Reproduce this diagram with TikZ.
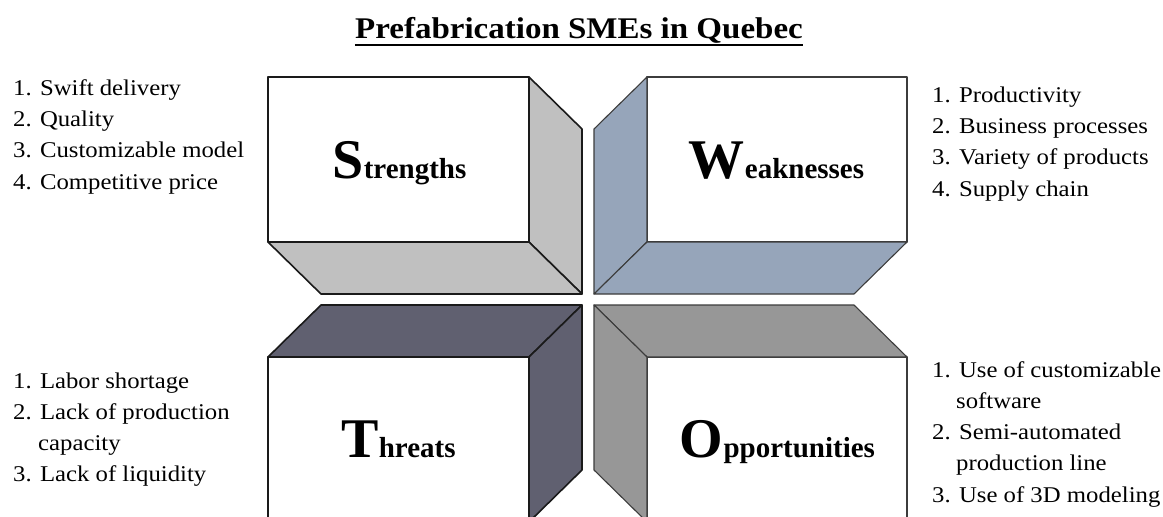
\documentclass[tikz,border=0pt]{standalone}
\usepackage{fontspec}
\setmainfont{Liberation Serif}
\newfontfamily\widefont{Liberation Serif}[FakeStretch=1.1]
\definecolor{sgray}{HTML}{C0C0C0}
\definecolor{wblue}{HTML}{96A5BA}
\definecolor{tslate}{HTML}{606070}
\definecolor{ogray}{HTML}{979797}
\definecolor{edgeA}{HTML}{1A1A1A}
\definecolor{edgeB}{HTML}{3C3C3C}
\begin{document}
\begin{tikzpicture}[x=1pt,y=-1pt,
  facefront/.style={draw, fill=white, inner sep=0pt, outer sep=0pt, minimum height=165pt},
  leftbox/.style={line width=1.6pt, draw=edgeA, line join=round},
  rightbox/.style={line width=1.1pt, draw=edgeB, line join=round},
  item/.style={anchor=base west, inner sep=0pt, font=\widefont\fontsize{22.5}{27}\selectfont},
  lbl/.style={anchor=base, inner sep=0pt, font=\bfseries},
  ]
\def\dx{53}\def\dy{52}
\newcommand{\bigL}[1]{{\fontsize{56}{60}\selectfont #1}}
\newcommand{\smallL}[1]{{\fontsize{29}{32}\selectfont #1}}
\useasboundingbox (0,0) rectangle (1163,517);
\fill[white] (0,0) rectangle (1163,517);
\clip (0,0) rectangle (1163,517);

% Title
\node[anchor=base, inner sep=0pt, font=\widefont\fontsize{30}{34}\selectfont\bfseries] (title) at (579,38) {Prefabrication SMEs in Quebec};
\draw[line width=2.2pt] ([yshift=-7pt]title.base west) -- ([yshift=-7pt]title.base east);

% Strengths
\node[facefront, leftbox, minimum width=261pt] (S) at (398.5,159.5) {};
\filldraw[leftbox, fill=sgray] (S.north east) -- ++(\dx,\dy) -- ++(0,165) -- (S.south east) -- cycle;
\filldraw[leftbox, fill=sgray] (S.south west) -- ++(\dx,\dy) -- ++(261,0) -- (S.south east) -- cycle;
\node[lbl] (Sl) at (399.5,178) {\bigL{S}\smallL{trengths}};

% Weaknesses
\node[facefront, rightbox, minimum width=260pt] (W) at (777,159.5) {};
\filldraw[rightbox, fill=wblue] (W.north west) -- ++(-\dx,\dy) -- ++(0,165) -- (W.south west) -- cycle;
\filldraw[rightbox, fill=wblue] (W.south west) -- ++(-\dx,\dy) -- ++(260,0) -- (W.south east) -- cycle;
\node[lbl] (Wl) at (776.5,178) {\bigL{W}\smallL{eaknesses}};

% Threats
\node[facefront, leftbox, minimum width=261pt] (T) at (398.5,439.5) {};
\filldraw[leftbox, fill=tslate] (T.north west) -- ++(\dx,-\dy) -- ++(261,0) -- (T.north east) -- cycle;
\filldraw[leftbox, fill=tslate] (T.north east) -- ++(\dx,-\dy) -- ++(0,165) -- (T.south east) -- cycle;
\node[lbl] (Tl) at (398.5,457) {\bigL{T}\smallL{hreats}};

% Opportunities
\node[facefront, rightbox, minimum width=260pt] (O) at (777,439.5) {};
\filldraw[rightbox, fill=ogray] (O.north west) -- ++(-\dx,-\dy) -- ++(260,0) -- (O.north east) -- cycle;
\filldraw[rightbox, fill=ogray] (O.north west) -- ++(-\dx,-\dy) -- ++(0,165) -- (O.south west) -- cycle;
\node[lbl] (Ol) at (777.5,457) {\bigL{O}\smallL{pportunities}};

% Strength list
\node[item] (s1) at (13,95) {1. Swift delivery};
\node[item] (s2) at (13,126.3) {2. Quality};
\node[item] (s3) at (13,157.6) {3. Customizable model};
\node[item] (s4) at (13,189) {4. Competitive price};

% Weakness list
\node[item] (w1) at (932,102.3) {1. Productivity};
\node[item] (w2) at (932,133.6) {2. Business processes};
\node[item] (w3) at (932,164.9) {3. Variety of products};
\node[item] (w4) at (932,196.2) {4. Supply chain};

% Threat list
\node[item] (t1) at (13,388) {1. Labor shortage};
\node[item] (t2) at (13,419.3) {2. Lack of production};
\node[item] (t2b) at (38,450.6) {capacity};
\node[item] (t3) at (13,481.9) {3. Lack of liquidity};

% Opportunity list
\node[item] (o1) at (932,377) {1. Use of customizable};
\node[item] (o1b) at (956,408.3) {software};
\node[item] (o2) at (932,439.6) {2. Semi-automated};
\node[item] (o2b) at (956,470.9) {production line};
\node[item] (o3) at (932,502.2) {3. Use of 3D modeling};
\end{tikzpicture}
\end{document}
